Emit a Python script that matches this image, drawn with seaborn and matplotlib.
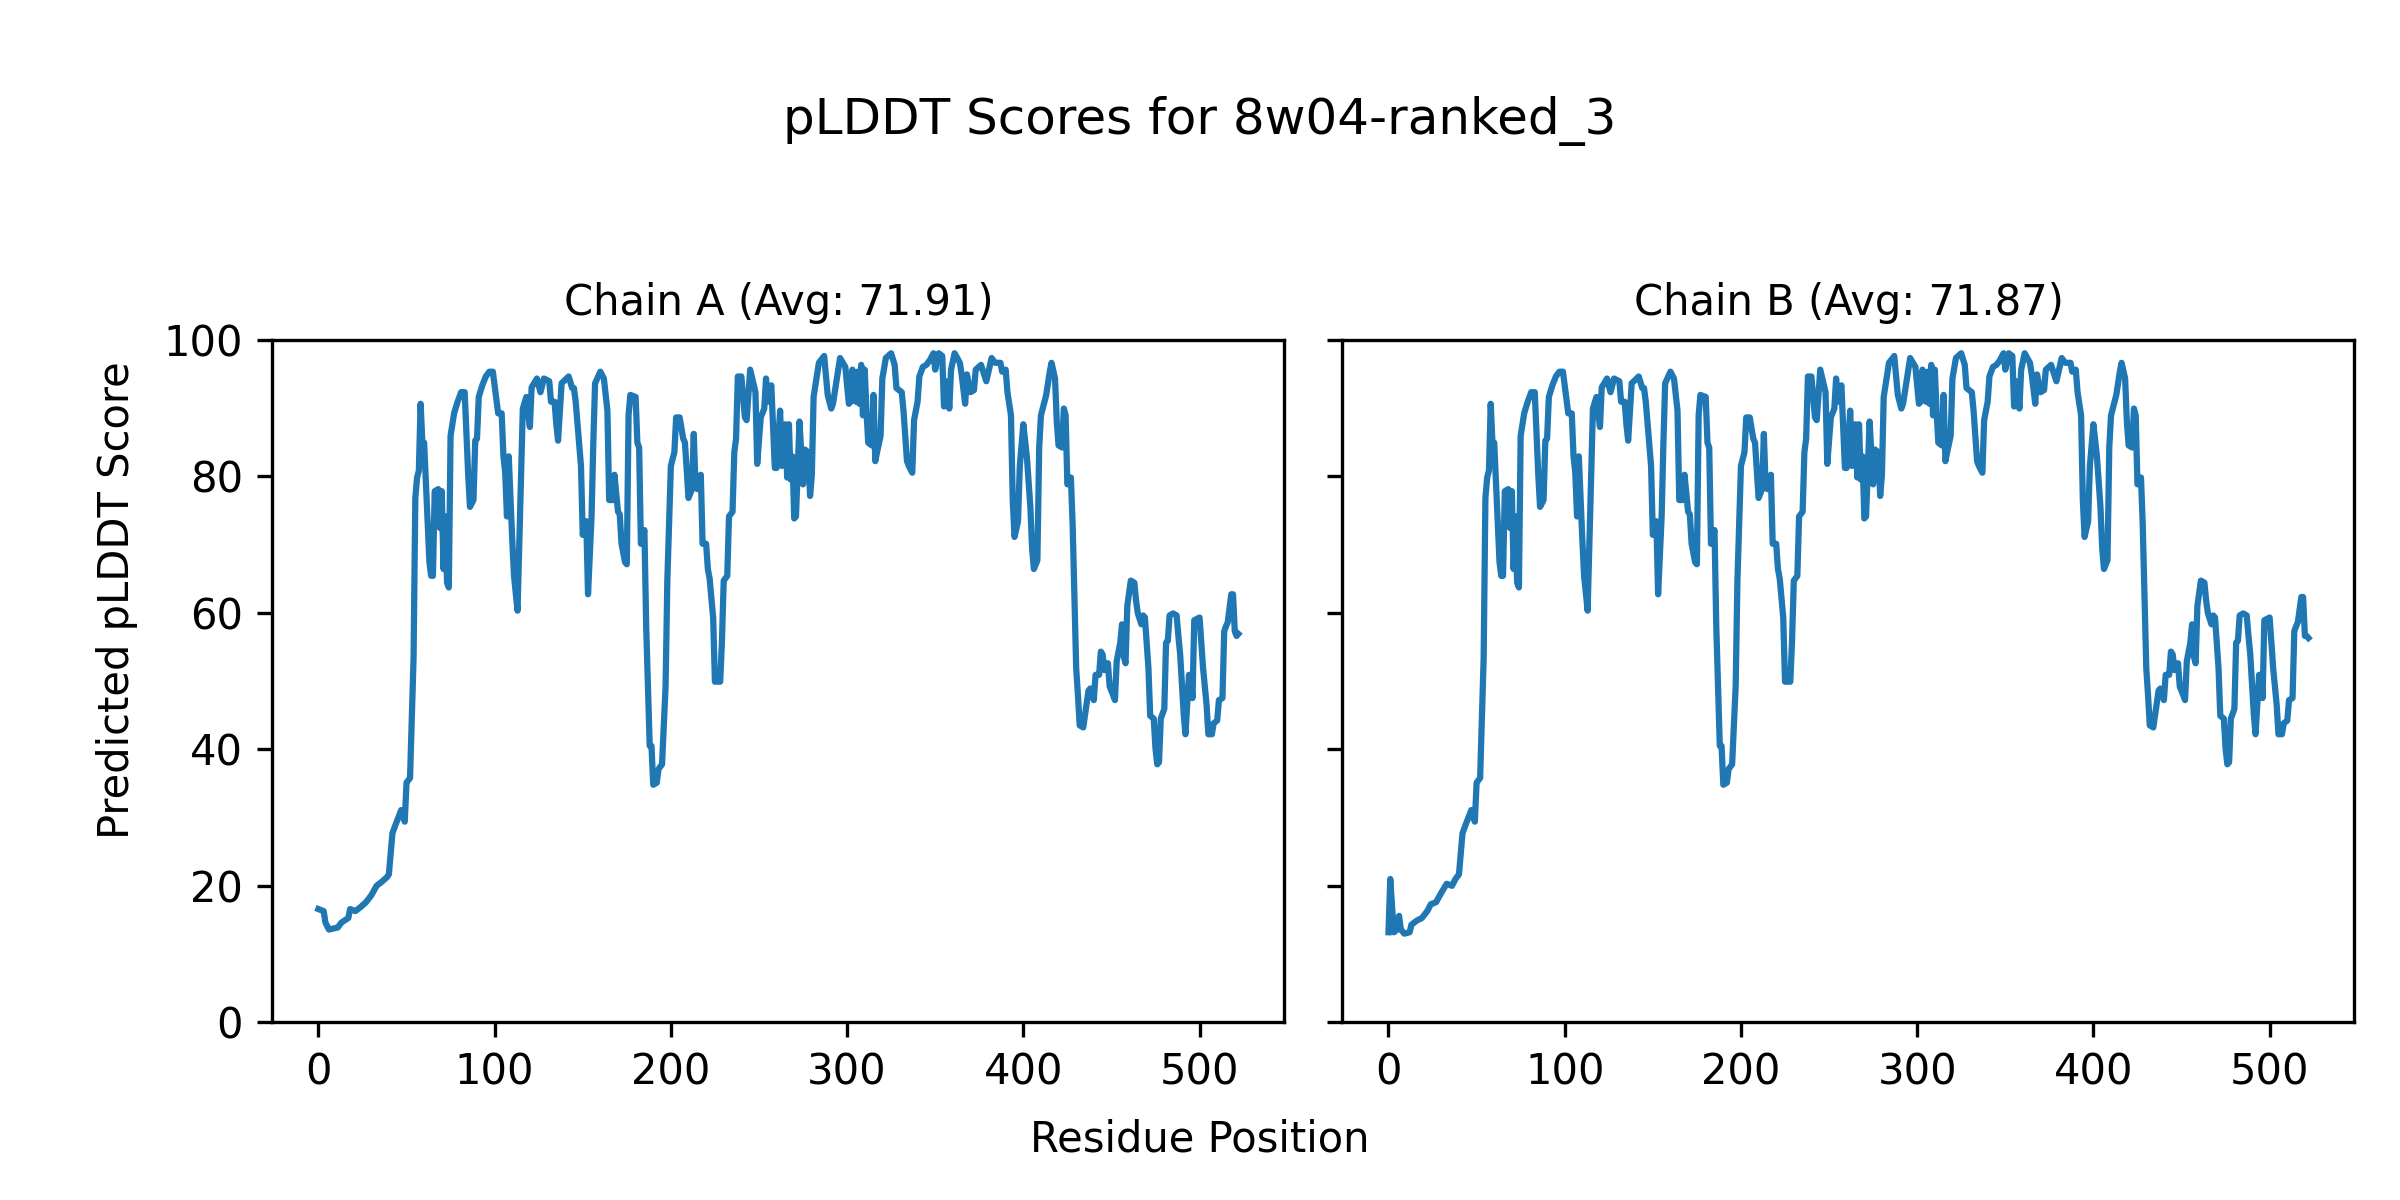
import pandas as pd
import matplotlib
matplotlib.use("Agg")
import matplotlib.pyplot as plt
import seaborn as sns

# values (residue position, pLDDT)
pos_a = [0, 3, 4, 6, 11, 13, 17, 18, 21, 24, 27, 30, 33, 36, 39, 40, 42, 44, 47, 49, 50, 52,
         54, 55, 56, 57, 58, 59, 60, 63, 64, 65, 66, 68, 69, 70, 71, 72, 73, 74, 75, 77, 79, 81,
         83, 85, 86, 88, 89, 90, 91, 93, 95, 97, 99, 102, 104, 105, 106, 107, 108, 110, 111, 113,
         116, 118, 120, 121, 124, 126, 128, 131, 132, 134, 135, 136, 138, 142, 144, 145, 146, 149,
         150, 152, 153, 155, 156, 157, 160, 162, 164, 165, 167, 168, 170, 171, 172, 174, 175, 176,
         177, 180, 181, 182, 183, 185, 186, 188, 189, 190, 192, 193, 195, 197, 198, 200, 202, 203,
         205, 207, 208, 210, 212, 213, 214, 215, 217, 218, 220, 221, 222, 224, 225, 228, 229, 230,
         232, 233, 235, 236, 237, 238, 240, 242, 243, 245, 248, 249, 251, 253, 254, 255, 257, 259,
         260, 262, 263, 265, 266, 267, 268, 269, 270, 271, 273, 275, 276, 278, 279, 280, 281, 284,
         287, 289, 291, 292, 296, 299, 301, 302, 303, 305, 306, 307, 308, 309, 310, 311, 312, 314,
         315, 316, 317, 319, 320, 322, 325, 327, 328, 331, 332, 334, 335, 337, 338, 340, 341, 343,
         345, 347, 349, 350, 352, 354, 355, 356, 357, 358, 359, 361, 364, 365, 367, 368, 370, 372,
         373, 376, 379, 382, 384, 387, 388, 390, 391, 393, 394, 395, 397, 398, 400, 402, 404, 405,
         406, 408, 409, 410, 413, 415, 416, 418, 419, 420, 422, 423, 424, 425, 427, 428, 430, 431,
         432, 434, 437, 438, 440, 441, 443, 444, 445, 446, 448, 449, 451, 452, 453, 455, 456, 457,
         458, 459, 461, 463, 464, 465, 467, 468, 469, 471, 472, 474, 475, 476, 477, 478, 480, 481,
         482, 483, 485, 487, 488, 489, 491, 492, 494, 495, 496, 497, 500, 502, 504, 505, 507, 508,
         510, 511, 513, 514, 515, 516, 518, 519, 520, 521, 522]
score_a = [16.6, 16.3, 14.6, 13.6, 13.9, 14.6, 15.3, 16.6, 16.3, 16.9, 17.6, 18.6, 20.0, 20.6,
           21.3, 21.7, 27.7, 29.1, 31.1, 29.4, 35.1, 35.8, 53.3, 76.8, 79.8, 80.8, 90.6, 84.9,
           84.9, 67.4, 65.4, 65.4, 77.8, 78.1, 72.4, 77.8, 66.4, 74.1, 64.4, 63.7, 85.9, 89.2,
           90.9, 92.3, 92.3, 80.2, 75.5, 76.5, 85.2, 85.5, 91.6, 93.3, 94.6, 95.3, 95.3, 89.2,
           89.2, 82.9, 80.5, 74.1, 82.9, 70.7, 65.4, 60.3, 89.9, 91.6, 87.2, 93.0, 94.3, 92.3,
           94.3, 93.9, 90.9, 90.9, 87.6, 85.2, 93.6, 94.6, 92.9, 92.9, 90.9, 81.5, 71.4, 73.4,
           62.7, 74.1, 84.9, 93.6, 95.3, 94.3, 89.6, 76.5, 76.5, 80.2, 74.8, 74.4, 70.1, 67.4,
           67.1, 88.9, 91.9, 91.6, 84.9, 84.2, 70.1, 72.1, 58.0, 40.5, 40.5, 34.8, 35.1, 37.1,
           37.8, 49.2, 64.7, 81.5, 83.5, 88.6, 88.6, 85.5, 84.9, 76.8, 78.1, 86.2, 78.5, 78.1,
           80.2, 70.1, 70.1, 66.4, 65.0, 59.3, 49.9, 49.9, 55.9, 64.7, 65.4, 74.1, 74.8, 83.5,
           85.5, 94.6, 94.6, 88.6, 88.2, 95.6, 92.3, 81.8, 88.6, 89.9, 94.3, 90.9, 93.3, 81.2,
           81.2, 89.6, 81.5, 87.6, 79.8, 87.6, 79.5, 82.9, 73.8, 74.1, 88.0, 78.8, 83.9, 83.5,
           77.1, 80.2, 91.6, 96.6, 97.6, 91.9, 89.9, 90.6, 97.3, 96.0, 90.6, 90.9, 95.6, 90.9,
           95.3, 90.6, 96.3, 88.9, 95.6, 89.6, 84.9, 84.5, 91.9, 82.2, 83.5, 85.9, 94.3, 97.3,
           98.0, 96.3, 92.9, 92.3, 89.6, 82.2, 81.5, 80.5, 88.2, 90.9, 94.6, 96.0, 96.3, 97.0,
           98.0, 95.6, 98.0, 97.6, 90.2, 93.9, 93.6, 89.9, 95.6, 98.0, 96.6, 94.9, 90.6, 94.9,
           92.3, 92.6, 95.6, 96.3, 93.9, 97.3, 96.6, 96.6, 95.3, 95.6, 92.3, 88.9, 76.5, 71.1,
           73.4, 81.5, 87.6, 82.9, 75.5, 69.4, 66.4, 67.7, 84.2, 88.9, 91.9, 95.3, 96.6, 94.3,
           87.9, 84.5, 84.2, 89.9, 88.9, 78.8, 79.8, 72.8, 51.9, 47.9, 43.5, 43.2, 48.6, 48.9,
           47.2, 50.9, 50.9, 54.3, 53.9, 51.6, 52.6, 49.2, 47.9, 47.2, 52.9, 55.6, 58.3, 53.6,
           52.6, 61.0, 64.7, 64.4, 61.7, 59.9, 58.3, 59.6, 59.3, 51.9, 44.9, 44.5, 40.1, 37.8,
           38.1, 44.5, 45.9, 55.6, 55.9, 59.6, 59.9, 59.6, 56.6, 53.9, 45.2, 42.2, 50.9, 50.9,
           47.5, 58.9, 59.3, 51.9, 46.5, 42.2, 42.2, 43.8, 44.2, 47.2, 47.5, 57.3, 58.0, 58.6,
           62.7, 62.7, 57.3, 56.6, 56.9]

# chain B is almost the same, but different N-terminus and tail
pos_b_start = [0, 1, 3, 5, 6, 7, 9, 12, 13, 16, 19, 22, 24, 27, 30, 33, 36, 38, 40]
score_b_start = [13.2, 21.0, 13.2, 13.6, 15.6, 13.6, 13.0, 13.2, 14.3, 14.9, 15.3, 16.3, 17.3,
                 17.6, 19.0, 20.3, 20.0, 21.0, 21.7]
score_b_tail = [62.3, 62.3, 56.6, 56.6, 56.3]

pos_b = pos_b_start + pos_a[pos_a.index(42):]
score_b = score_b_start + score_a[pos_a.index(42):-5] + score_b_tail

avg_a = 71.91
avg_b = 71.87

df_a = pd.DataFrame({"Residue": pos_a, "pLDDT": score_a})
df_b = pd.DataFrame({"Residue": pos_b, "pLDDT": score_b})

fig, axes = plt.subplots(1, 2, figsize=(8, 4), sharey=True)

sns.lineplot(data=df_a, x="Residue", y="pLDDT", ax=axes[0], color="#1f77b4")
axes[0].set_title(f"Chain A (Avg: {avg_a:.2f})", fontsize=10)
sns.lineplot(data=df_b, x="Residue", y="pLDDT", ax=axes[1], color="#1f77b4")
axes[1].set_title(f"Chain B (Avg: {avg_b:.2f})", fontsize=10)

for ax in axes:
    ax.set_ylim(0, 100)
    ax.set_xlabel("")
    ax.set_ylabel("")

fig.suptitle("pLDDT Scores for 8w04-ranked_3", fontsize=12, y=0.92)
fig.text(0.5, 0.04, "Residue Position", ha="center")
fig.text(0.04, 0.5, "Predicted pLDDT Score", va="center", rotation="vertical")
plt.subplots_adjust(left=0.1135, right=0.981, bottom=0.148, top=0.717, wspace=0.0575)

plt.savefig("out.png", dpi=300)
